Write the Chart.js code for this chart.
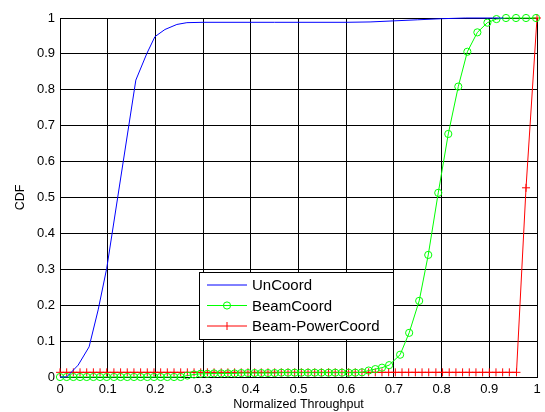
<!DOCTYPE html>
<html>
<head>
<meta charset="utf-8">
<script src="https://cdn.jsdelivr.net/npm/chart.js@4.4.1/dist/chart.umd.min.js"></script>
<style>
  html, body { margin: 0; padding: 0; background: #fff; }
  #wrap { width: 545px; height: 412px; }
</style>
</head>
<body>
<div id="wrap"><canvas id="chart" width="545" height="412"></canvas></div>
<script>
// series
const uncoordX = [0, 0.014, 0.038, 0.061, 0.080, 0.098, 0.159, 0.182, 0.199, 0.220, 0.245, 0.266, 0.300, 0.450, 0.600, 0.650, 0.700, 0.750, 0.800, 0.850, 0.930];
const uncoordY = [0, 0, 0.033, 0.084, 0.187, 0.303, 0.827, 0.901, 0.948, 0.968, 0.982, 0.987, 0.988, 0.988, 0.988, 0.989, 0.992, 0.995, 0.998, 1.0, 1.0];

const beamX = [0, 0.014, 0.028, 0.042, 0.056, 0.070, 0.084, 0.098, 0.113, 0.127,
  0.141, 0.155, 0.169, 0.183, 0.197, 0.211, 0.225, 0.239, 0.253, 0.267,
  0.281, 0.295, 0.309, 0.323, 0.338, 0.352, 0.366, 0.380, 0.394, 0.408,
  0.422, 0.436, 0.450, 0.464, 0.478, 0.492, 0.506, 0.520, 0.534, 0.548,
  0.563, 0.577, 0.591, 0.605, 0.619, 0.633, 0.647, 0.661, 0.675,
  0.690, 0.713, 0.732, 0.753, 0.772, 0.793, 0.814, 0.835, 0.854, 0.875,
  0.896, 0.915, 0.935, 0.956, 0.977, 0.998];
const beamY = [0, 0, 0, 0, 0, 0, 0, 0, 0, 0,
  0, 0, 0, 0, 0, 0, 0, 0, 0, 0.004,
  0.007, 0.009, 0.009, 0.010, 0.010, 0.010, 0.010, 0.011, 0.011, 0.011,
  0.011, 0.011, 0.011, 0.012, 0.012, 0.012, 0.012, 0.012, 0.012, 0.012,
  0.012, 0.012, 0.012, 0.012, 0.012, 0.013, 0.018, 0.022, 0.026,
  0.033, 0.062, 0.123, 0.212, 0.340, 0.513, 0.677, 0.809, 0.906, 0.960,
  0.987, 0.997, 1.0, 1.0, 1.0, 1.0];

const powerX = [0, 0.014, 0.028, 0.042, 0.056, 0.070, 0.084, 0.098, 0.113, 0.127,
  0.141, 0.155, 0.169, 0.183, 0.197, 0.211, 0.225, 0.239, 0.253, 0.267,
  0.281, 0.295, 0.309, 0.323, 0.338, 0.352, 0.366, 0.380, 0.394, 0.408,
  0.422, 0.436, 0.450, 0.464, 0.478, 0.492, 0.506, 0.520, 0.534, 0.548,
  0.563, 0.577, 0.591, 0.605, 0.619, 0.633, 0.647, 0.661, 0.675, 0.689,
  0.703, 0.717, 0.731, 0.745, 0.759, 0.773, 0.788, 0.802, 0.816, 0.830,
  0.844, 0.858, 0.872, 0.886, 0.900, 0.914, 0.928, 0.942, 0.957,
  0.977, 1.0];
const powerY = [0.013, 0.013, 0.013, 0.013, 0.013, 0.013, 0.013, 0.013, 0.013, 0.013,
  0.013, 0.013, 0.013, 0.013, 0.013, 0.013, 0.013, 0.013, 0.013, 0.013,
  0.013, 0.013, 0.013, 0.013, 0.013, 0.013, 0.013, 0.013, 0.013, 0.013,
  0.013, 0.013, 0.013, 0.013, 0.013, 0.013, 0.013, 0.013, 0.013, 0.013,
  0.013, 0.013, 0.013, 0.013, 0.013, 0.013, 0.013, 0.013, 0.013, 0.013,
  0.013, 0.013, 0.013, 0.013, 0.013, 0.013, 0.013, 0.013, 0.013, 0.013,
  0.013, 0.013, 0.013, 0.013, 0.013, 0.013, 0.013, 0.013, 0.013,
  0.527, 1.0];

const seriesNames = ["UnCoord", "BeamCoord", "Beam-PowerCoord"];
const seriesColors = ["#0000ff", "#00ff00", "#ff0000"];

const font = "'Liberation Sans', Arial, sans-serif";

function pts(xs, ys) {
  return xs.map((x, i) => ({ x: x, y: ys[i] }));
}

function tickLabel(v) {
  return String(Number(v.toFixed(1)));
}

// matlab style boxed legend
const boxLegend = {
  id: 'boxLegend',
  afterDraw(chart) {
    const ctx = chart.ctx;
    const left = 199.5, top = 272.5, w = 194, h = 67;
    const rows = [285, 305.5, 326];
    ctx.save();
    ctx.fillStyle = '#fff';
    ctx.fillRect(left, top, w, h);
    ctx.strokeStyle = '#000';
    ctx.lineWidth = 1;
    ctx.strokeRect(left, top, w, h);
    ctx.font = '15px ' + font;
    ctx.textBaseline = 'middle';
    seriesNames.forEach((name, i) => {
      const y = rows[i];
      ctx.strokeStyle = seriesColors[i];
      ctx.lineWidth = 1;
      ctx.beginPath();
      ctx.moveTo(207, y);
      ctx.lineTo(247, y);
      ctx.stroke();
      if (i === 1) {
        ctx.beginPath();
        ctx.arc(227, y, 3.6, 0, Math.PI * 2);
        ctx.stroke();
      } else if (i === 2) {
        ctx.beginPath();
        ctx.moveTo(227, y - 4);
        ctx.lineTo(227, y + 4);
        ctx.stroke();
      }
      ctx.fillStyle = '#000';
      ctx.fillText(name, 252, y + 1);
    });
    ctx.restore();
  }
};

new Chart(document.getElementById('chart').getContext('2d'), {
  type: 'line',
  data: {
    datasets: [
      {
        label: seriesNames[0],
        data: pts(uncoordX, uncoordY),
        borderColor: seriesColors[0],
        borderWidth: 1,
        pointRadius: 0,
        tension: 0,
        clip: false
      },
      {
        label: seriesNames[1],
        data: pts(beamX, beamY),
        borderColor: seriesColors[1],
        borderWidth: 1,
        pointStyle: 'circle',
        pointRadius: 3.6,
        pointBorderColor: seriesColors[1],
        pointBackgroundColor: 'rgba(0,0,0,0)',
        pointBorderWidth: 1,
        tension: 0,
        clip: false
      },
      {
        label: seriesNames[2],
        data: pts(powerX, powerY),
        borderColor: seriesColors[2],
        borderWidth: 1,
        pointStyle: 'cross',
        pointRadius: 4,
        pointBorderColor: seriesColors[2],
        pointBorderWidth: 1,
        tension: 0,
        clip: false
      }
    ]
  },
  options: {
    responsive: false,
    animation: false,
    layout: { padding: { top: 18, right: 8, left: 0, bottom: 0 } },
    plugins: {
      legend: { display: false },
      tooltip: { enabled: false }
    },
    scales: {
      x: {
        type: 'linear',
        min: 0,
        max: 1,
        afterFit: s => { s.height = 35; s.paddingRight = 0; s.paddingLeft = 0; },
        ticks: { stepSize: 0.1, color: '#000', font: { family: font, size: 13 }, padding: 5, maxRotation: 0, callback: tickLabel },
        grid: { color: '#000', lineWidth: 1, drawTicks: false },
        border: { color: '#000' },
        title: { display: true, text: 'Normalized Throughput', color: '#000', font: { family: font, size: 12.5 }, padding: { top: 0, bottom: 0 } }
      },
      y: {
        min: 0,
        max: 1,
        afterFit: s => { s.width = 60; s.paddingTop = 0; s.paddingBottom = 0; },
        ticks: { stepSize: 0.1, color: '#000', font: { family: font, size: 13 }, padding: 5, callback: tickLabel },
        grid: { color: '#000', lineWidth: 1, drawTicks: false },
        border: { color: '#000' },
        title: { display: true, text: 'CDF', color: '#000', font: { family: font, size: 12.5 }, padding: { top: 13, bottom: 0 } }
      }
    }
  },
  plugins: [boxLegend]
});
</script>
</body>
</html>
